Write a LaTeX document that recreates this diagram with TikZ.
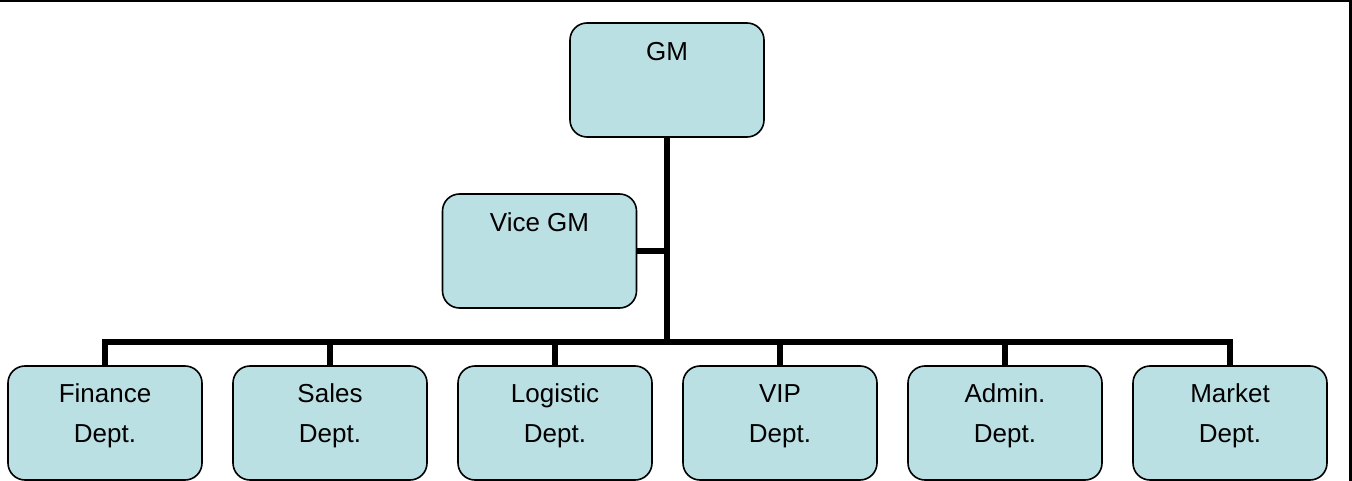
\documentclass[tikz,border=0pt]{standalone}
\usepackage{fontspec}
\setmainfont{Liberation Sans}
\definecolor{boxfill}{RGB}{187,224,227}
\begin{document}
\begin{tikzpicture}[x=1pt,y=-1pt,
  orgbox/.style={draw=black, line width=1.6pt, fill=boxfill, rounded corners=17pt,
    minimum width=194pt, minimum height=114pt, inner sep=0pt},
  orgtext/.style={anchor=north, align=center, inner sep=0pt,
    font=\fontsize{26}{40}\selectfont},
  trunkline/.style={line width=6pt},
  busline/.style={line width=5.5pt},
  frameline/.style={line width=2.5pt}]
\useasboundingbox (0,0) rectangle (1352,481);
\draw[frameline] (0,1) -- (1350.5,1) -- (1350.5,481);
% top level
\node[orgbox] (gm) at (667,80) {};
\node[orgtext] (gmt) at ([yshift=-19pt]gm.north) {\vphantom{Fd}GM};
\node[orgbox] (vice) at (539.5,251) {};
\node[orgtext] (vicet) at ([yshift=-19pt]vice.north) {\vphantom{Fd}Vice GM};
% departments
\foreach \n/\x/\a/\b in {d1/105/Finance/Dept., d2/330/Sales/Dept., d3/555/Logistic/Dept.,
    d4/780/VIP/Dept., d5/1005/Admin./Dept., d6/1230/Market/Dept.}{
  \node[orgbox] (\n) at (\x,423) {};
  \node[orgtext] (\n t) at ([yshift=-18pt]\n.north) {\vphantom{Fd}\a\\\b};
}
\coordinate (bar) at (667,342);
% connectors
\draw[trunkline] (gm.south) -- (bar);
\draw[trunkline] (vice.east) -- (vice.east -| gm.south);
\draw[busline] (d1.north) |- (bar) -| (d6.north);
\foreach \n in {d2,d3,d4,d5}{
  \draw[busline] (\n.north) -- (\n.north |- bar);
}
\end{tikzpicture}
\end{document}
